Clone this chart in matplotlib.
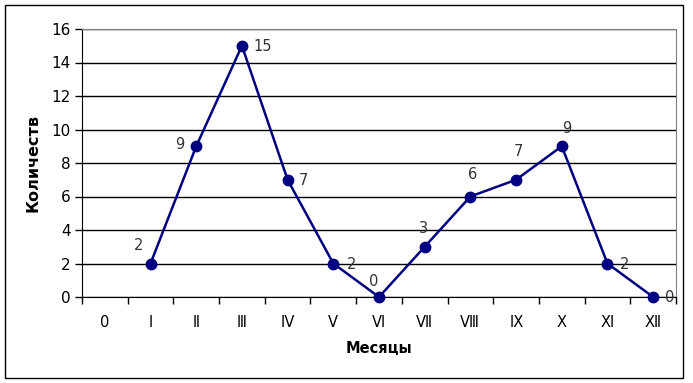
import matplotlib
matplotlib.use('Agg')
from matplotlib import pyplot as plt
from matplotlib.patches import Rectangle

# months (category 0 has no value)
months = ['0', 'I', 'Ⅱ', 'Ⅲ', 'Ⅳ', 'V', 'VI', 'VⅡ', 'VⅢ', 'Ⅸ', 'X', 'XI', 'XⅡ']
counts = [None, 2, 9, 15, 7, 2, 0, 3, 6, 7, 9, 2, 0]

# label offsets in pixels, just
label_offsets = [None, (-12, 18), (-16, 2), (21, -1), (16, -1), (18, -1), (-5, 16),
                 (-1, 18), (2, 22), (2, 28), (5, 18), (17, -1), (17, 0)]

fig = plt.figure(figsize=(6.93, 3.83), dpi=100)
W, H = 693, 383
ax = fig.add_axes([82 / W, (H - 297) / H, 594 / W, 268 / H])

xs = [i for i, c in enumerate(counts) if c is not None]
ys = [c for c in counts if c is not None]
ax.plot(xs, ys, color='#000080', lw=1.8, marker='o', markersize=7.5,
        markerfacecolor='#000080', markeredgecolor='#000080', zorder=3, clip_on=False)

for x, y, off in zip(xs, ys, [o for o in label_offsets if o is not None]):
    ax.annotate(str(y), (x, y), xytext=off, textcoords='offset pixels',
                ha='center', va='center', fontsize=10.5, color='#333333')

ax.set_xlim(-0.5, len(months) - 0.5)
ax.set_ylim(0, 16)
ax.set_yticks(range(0, 17, 2))
ax.yaxis.grid(True, color='black', lw=1)
ax.set_axisbelow(True)

ax.set_xticks(range(len(months)))
ax.set_xticklabels(months, fontsize=10.5)
ax.tick_params(axis='x', which='major', length=0, pad=13)
ax.set_xticks([i - 0.5 for i in range(len(months) + 1)], minor=True)
ax.tick_params(axis='x', which='minor', length=5, width=1, direction='out')
ax.tick_params(axis='y', length=5, width=1, labelsize=11, pad=3)

for s in ['top', 'right']:
    ax.spines[s].set_color('#808080')
for s in ['left', 'bottom']:
    ax.spines[s].set_color('black')

ax.set_xlabel('Месяцы', fontsize=10.5, fontweight='bold', labelpad=8)
ax.set_ylabel('Количеств', fontsize=11.5, fontweight='bold', labelpad=8)

fig.patches.append(Rectangle((5 / W, 5 / H), 678 / W, 373 / H, transform=fig.transFigure,
                             fill=False, edgecolor='black', lw=1))

fig.savefig('out.png', dpi=100)
